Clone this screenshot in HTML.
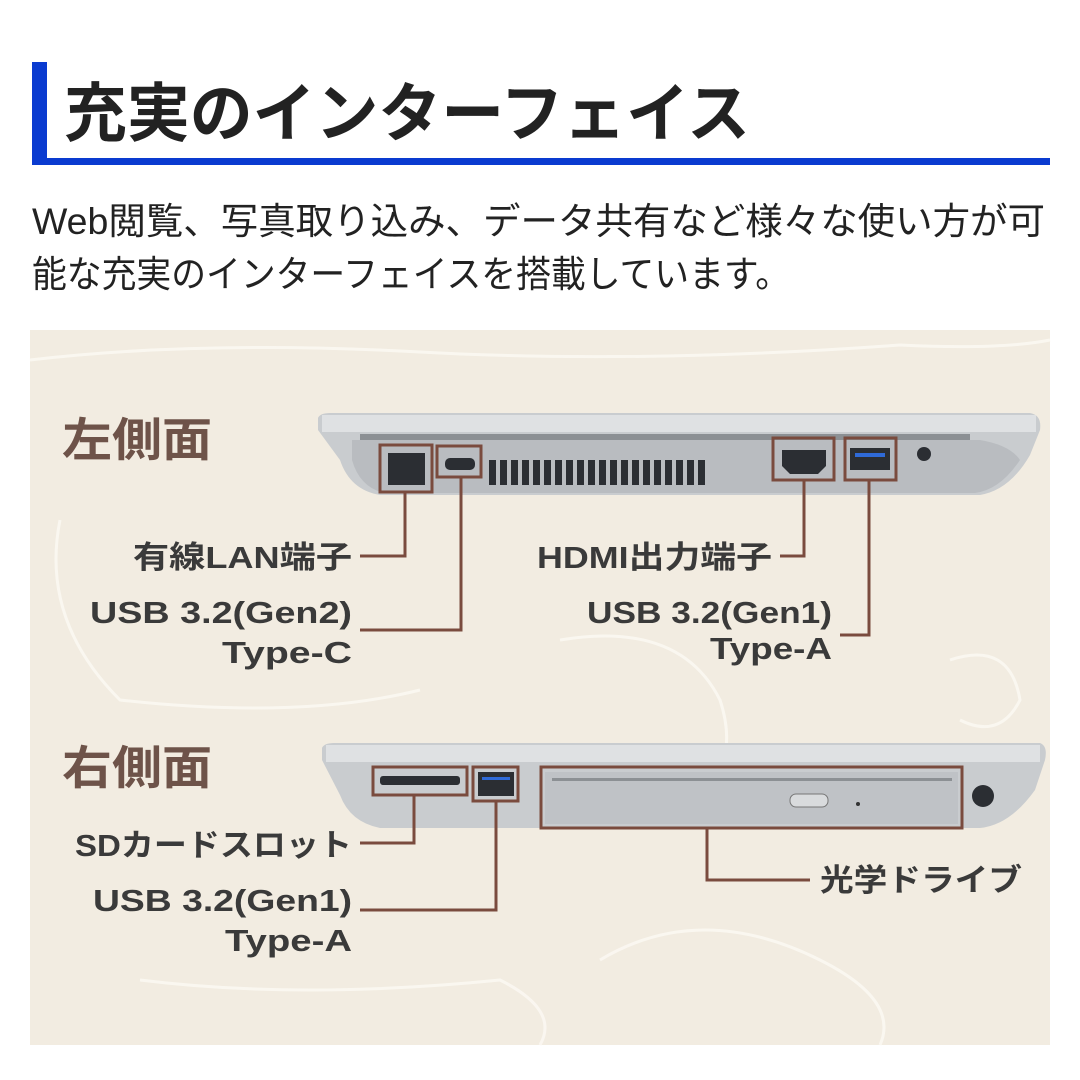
<!DOCTYPE html>
<html><head><meta charset="utf-8"><style>
html,body{margin:0;padding:0;background:#fff;width:1080px;height:1080px;overflow:hidden}
text{font-family:"Liberation Sans","Noto Sans CJK JP",sans-serif}
</style></head><body>
<svg width="1080" height="1080" viewBox="0 0 1080 1080" xmlns="http://www.w3.org/2000/svg">
<rect width="1080" height="1080" fill="#fff"/>
<rect x="32" y="62" width="15" height="103" fill="#0a3bd0"/>
<rect x="32" y="158" width="1018" height="7" fill="#0a3bd0"/>
<text x="64" y="136" font-size="64" font-weight="bold" fill="#222" textLength="686" lengthAdjust="spacingAndGlyphs">充実のインターフェイス</text>
<text x="32" y="234" font-size="37" fill="#222" textLength="1013" lengthAdjust="spacingAndGlyphs">Web閲覧、写真取り込み、データ共有など様々な使い方が可</text>
<text x="32" y="287" font-size="37" fill="#222" textLength="758" lengthAdjust="spacingAndGlyphs">能な充実のインターフェイスを搭載しています。</text>
<rect x="30" y="330" width="1020" height="715" fill="#f2ece1"/>
<g fill="none" stroke="#fbf8f2" stroke-width="3" opacity="0.9">
<path d="M30 360 Q200 340 420 352 T900 345 Q1000 350 1050 340"/>
<path d="M60 520 Q40 620 120 700 Q300 720 420 690"/>
<path d="M560 640 Q680 620 720 700 Q740 760 700 800"/>
<path d="M950 660 Q1010 640 1020 700 Q1000 740 960 720"/>
<path d="M140 980 Q300 1000 500 980 Q560 1010 540 1045"/>
<path d="M600 960 Q700 900 820 960 Q900 1000 880 1045"/>
</g>
<text x="62" y="456" font-size="46" font-weight="bold" fill="#6e5349" textLength="150" lengthAdjust="spacingAndGlyphs">左側面</text>
<text x="62" y="784" font-size="46" font-weight="bold" fill="#6e5349" textLength="150" lengthAdjust="spacingAndGlyphs">右側面</text>
<!-- laptop 1 -->
<path d="M318 418 Q320 413 330 413 L1030 413 Q1042 415 1040 430 L1030 455 Q1010 490 980 495 L380 495 Q350 490 340 460 L318 430 Z" fill="#c9cccf"/>
<path d="M322 415 L1036 415 L1036 432 L322 432 Z" fill="#dfe1e3"/>
<path d="M352 440 L980 440 Q1010 445 1020 460 Q1000 490 975 493 L385 493 Q360 488 352 460 Z" fill="#b9bcc0"/>
<rect x="360" y="434" width="610" height="6" fill="#8c9094"/>
<g fill="#2b2e33">
<rect x="388" y="453" width="37" height="32"/>
<rect x="445" y="458" width="30" height="12" rx="5"/>
<rect x="489" y="460" width="7" height="25"/>
<rect x="500" y="460" width="7" height="25"/><rect x="511" y="460" width="7" height="25"/><rect x="522" y="460" width="7" height="25"/><rect x="533" y="460" width="7" height="25"/><rect x="544" y="460" width="7" height="25"/><rect x="555" y="460" width="7" height="25"/><rect x="566" y="460" width="7" height="25"/><rect x="577" y="460" width="7" height="25"/><rect x="588" y="460" width="7" height="25"/><rect x="599" y="460" width="7" height="25"/><rect x="610" y="460" width="7" height="25"/><rect x="621" y="460" width="7" height="25"/><rect x="632" y="460" width="7" height="25"/><rect x="643" y="460" width="7" height="25"/><rect x="654" y="460" width="7" height="25"/><rect x="665" y="460" width="7" height="25"/><rect x="676" y="460" width="7" height="25"/><rect x="687" y="460" width="7" height="25"/><rect x="698" y="460" width="7" height="25"/>
<path d="M782 450 L826 450 L826 466 L818 474 L790 474 L782 466 Z"/>
<rect x="850" y="448" width="40" height="22"/>
<circle cx="924" cy="454" r="7"/>
</g>
<rect x="855" y="453" width="30" height="4" fill="#2f6ad8"/>
<g fill="none" stroke="#7a4b3e" stroke-width="3">
<rect x="380" y="445" width="52" height="47"/>
<rect x="437" y="446" width="44" height="31"/>
<rect x="773" y="438" width="61" height="42"/>
<rect x="845" y="438" width="51" height="42"/>
<path d="M405 492 L405 556 L360 556"/>
<path d="M461 477 L461 630 L360 630"/>
<path d="M804 480 L804 556 L780 556"/>
<path d="M869 480 L869 635 L840 635"/>
</g>
<g font-size="31" font-weight="bold" fill="#3a3a3a" lengthAdjust="spacingAndGlyphs">
<text x="133" y="568" textLength="219" lengthAdjust="spacingAndGlyphs">有線LAN端子</text>
<text x="90" y="623" textLength="262" lengthAdjust="spacingAndGlyphs">USB 3.2(Gen2)</text>
<text x="222" y="663" textLength="130" lengthAdjust="spacingAndGlyphs">Type-C</text>
<text x="537" y="568" textLength="235" lengthAdjust="spacingAndGlyphs">HDMI出力端子</text>
<text x="587" y="623" textLength="245" lengthAdjust="spacingAndGlyphs">USB 3.2(Gen1)</text>
<text x="710" y="659" textLength="122" lengthAdjust="spacingAndGlyphs">Type-A</text>
</g>
<!-- laptop 2 -->
<path d="M322 748 Q324 743 334 743 L1040 743 Q1048 746 1045 760 L1035 790 Q1010 825 980 828 L380 828 Q350 822 340 795 L322 760 Z" fill="#c9cccf"/>
<path d="M326 745 L1040 745 L1040 762 L326 762 Z" fill="#dfe1e3"/>
<rect x="545" y="772" width="413" height="52" fill="#bfc2c6"/>
<rect x="552" y="778" width="400" height="3" fill="#8c9094"/>
<rect x="790" y="794" width="38" height="13" rx="6" fill="#d9dbdd" stroke="#777" stroke-width="1"/>
<circle cx="858" cy="804" r="2" fill="#333"/>
<circle cx="983" cy="796" r="11" fill="#2b2e33"/>
<g fill="#2b2e33">
<rect x="380" y="776" width="80" height="9" rx="3"/>
<rect x="478" y="772" width="36" height="24"/>
</g>
<rect x="482" y="777" width="28" height="3" fill="#2f6ad8"/>
<g fill="none" stroke="#7a4b3e" stroke-width="3">
<rect x="373" y="767" width="94" height="28"/>
<rect x="473" y="767" width="45" height="34"/>
<rect x="541" y="767" width="421" height="61"/>
<path d="M414 795 L414 843 L360 843"/>
<path d="M496 801 L496 910 L360 910"/>
<path d="M707 828 L707 880 L810 880"/>
</g>
<g font-size="31" font-weight="bold" fill="#3a3a3a">
<text x="75" y="856" textLength="277" lengthAdjust="spacingAndGlyphs">SDカードスロット</text>
<text x="93" y="911" textLength="259" lengthAdjust="spacingAndGlyphs">USB 3.2(Gen1)</text>
<text x="225" y="951" textLength="127" lengthAdjust="spacingAndGlyphs">Type-A</text>
<text x="820" y="891" textLength="202" lengthAdjust="spacingAndGlyphs">光学ドライブ</text>
</g>
</svg>
</body></html>
